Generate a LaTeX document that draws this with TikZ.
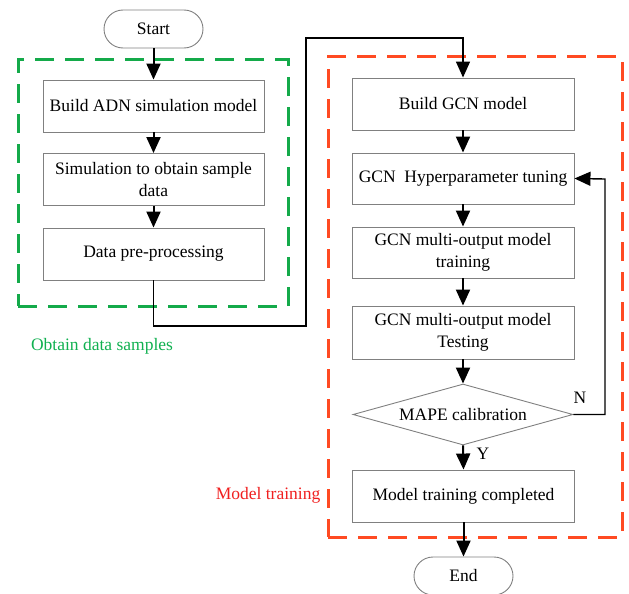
\documentclass[tikz,border=0pt]{standalone}
\usepackage{fontspec}
\setmainfont{Liberation Serif}
\usetikzlibrary{arrows.meta,shapes.geometric}
\definecolor{grnline}{HTML}{14AA4A}
\definecolor{grntext}{HTML}{10B050}
\definecolor{redline}{HTML}{FF4A22}
\definecolor{redtext}{HTML}{F02020}
\definecolor{boxgray}{HTML}{808080}
\tikzset{
  every node/.style={font=\fontsize{17.5}{22}\selectfont, inner sep=0pt},
  procbox/.style={draw=boxgray, line width=0.9pt, rectangle, minimum width=221pt, minimum height=52pt, align=center},
  termbox/.style={draw=boxgray, line width=0.9pt, rectangle, rounded corners=19pt, minimum width=99pt, minimum height=38pt},
  decbox/.style={draw=boxgray, line width=0.9pt, diamond, aspect=3.6, minimum width=220pt, minimum height=61pt},
  grpbox/.style={rectangle, line width=3pt, dash pattern=on 19pt off 11pt},
  flowarrow/.style={draw=black, line width=2pt, -{Triangle[length=16pt,width=14pt]}},
  linkarrow/.style={draw=black, line width=1.4pt, -{Triangle[length=16pt,width=14pt]}},
}
\begin{document}
\begin{tikzpicture}[x=1pt,y=-1pt]
\useasboundingbox (0,0) rectangle (629,594);
% group frames
\node[grpbox, draw=grnline, minimum width=270pt, minimum height=246pt] (grnframe) at (153,183) {};
\node[grpbox, draw=redline, minimum width=294pt, minimum height=480pt] (redframe) at (475,297) {};
\node[text=grntext] (grnlabel) at (102,346) {Obtain data samples};
\node[text=redtext] (redlabel) at (268,495) {Model training};
% left column
\node[termbox, fill=white] (start) at (153.5,29) {Start};
\node[procbox, fill=white] (adn) at (153.5,106) {Build ADN simulation model};
\node[procbox, fill=white] (sim) at (153.5,179.5) {Simulation to obtain sample\\data};
\node[procbox, fill=white] (pre) at (153.5,254) {Data pre-processing};
% right column
\node[procbox, fill=white, minimum width=222pt] (gcn) at (463,104) {Build GCN model};
\node[procbox, fill=white, minimum width=222pt, minimum height=51pt] (hyp) at (463,178.5) {GCN\ \ Hyperparameter tuning};
\node[procbox, fill=white, minimum width=222pt, minimum height=51pt] (trn) at (463,252.5) {GCN multi-output model\\training};
\node[procbox, fill=white, minimum width=222pt, minimum height=53pt] (tst) at (463,332.5) {GCN multi-output model\\Testing};
\node[decbox, fill=white] (dia) at (463,414.5) {MAPE calibration};
\node[procbox, fill=white, minimum width=222pt] (done) at (463.5,496) {Model training completed};
\node[termbox, fill=white] (finish) at (463.5,576) {End};
% labels
\node (nlab) at (580,398) {N};
\node (ylab) at (483,454) {Y};
% connector helper points
\coordinate (jlow) at (306,326);
\coordinate (jhigh) at (306,38);
\coordinate (fb) at (605,179);
% arrows
\draw[flowarrow] (start.south) -- (adn.north);
\draw[flowarrow] (adn.south) -- (sim.north);
\draw[flowarrow] (sim.south) -- (pre.north);
\draw[linkarrow] (pre.south) |- (jlow) -- (jhigh) -| (gcn.north);
\draw[flowarrow] (gcn.south) -- (hyp.north);
\draw[flowarrow] (hyp.south) -- (trn.north);
\draw[flowarrow] (trn.south) -- (tst.north);
\draw[flowarrow] (tst.south) -- (dia.north);
\draw[flowarrow] (dia.south) -- (done.north);
\draw[flowarrow] (done.south) -- (finish.north);
\draw[linkarrow] (dia.east) -| (fb) -- (hyp.east);
\end{tikzpicture}
\end{document}
